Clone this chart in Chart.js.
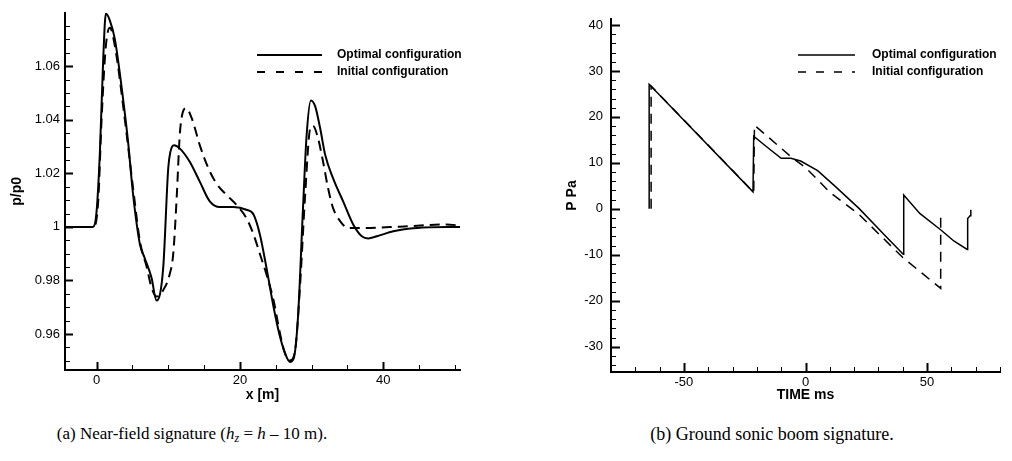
<!DOCTYPE html>
<html>
<head>
<meta charset="utf-8">
<script src="https://cdn.jsdelivr.net/npm/chart.js@4.4.0/dist/chart.umd.min.js"></script>
<style>
  body { margin: 0; background: #fff; width: 1012px; height: 461px; position: relative; overflow: hidden; }
  canvas { position: absolute; top: 0; }
  #c1 { left: 0; }
  #c2 { left: 500px; }
  .cap { position: absolute; top: 424px; font-family: "Liberation Serif", "DejaVu Serif", serif; font-size: 17px; color: #000; white-space: nowrap; transform: translateX(-50%); }
  .cap i { font-style: italic; }
  .cap sub { font-size: 12px; vertical-align: -3px; line-height: 0; }
</style>
</head>
<body>
<canvas id="c1" width="480" height="410"></canvas>
<canvas id="c2" width="512" height="410"></canvas>
<div class="cap" style="left:192px">(a) Near-field signature (<i>h<sub>z</sub></i> = <i>h</i> – 10 m).</div>
<div class="cap" style="left:772px; font-size:18px">(b) Ground sonic boom signature.</div>
<script>
// near-field signature, p/p0 vs x [m]
const nearX_opt = [-4.4, -0.5, 0, 0.47, 0.93, 1.3, 1.86, 2.56, 3.7, 4.4, 5.1, 6.05, 6.7, 7.67, 8.37, 9.3, 10.0, 10.3, 10.8, 11.6, 13.0, 14.4, 15.8, 17.2, 19.1, 20.9, 21.9, 22.8, 23.7, 24.7, 25.6, 26.5, 27.0, 27.5, 28.1, 28.8, 29.3, 29.9, 30.5, 31.2, 31.9, 33.0, 34.4, 35.8, 37.0, 37.9, 39.1, 41.4, 44.7, 50.7];
const nearP_opt = [1.0, 1.0, 1.0056, 1.028, 1.0626, 1.0796, 1.077, 1.070, 1.0478, 1.0317, 1.012, 0.9935, 0.9885, 0.981, 0.9725, 0.9848, 1.0219, 1.028, 1.0305, 1.0293, 1.0243, 1.0169, 1.0095, 1.0074, 1.0074, 1.0064, 1.0046, 0.997, 0.9848, 0.970, 0.9589, 0.9515, 0.9496, 0.9509, 0.9663, 1.007, 1.034, 1.0472, 1.045, 1.0367, 1.0268, 1.0181, 1.0095, 1.0009, 0.9965, 0.9957, 0.9965, 0.9984, 0.9996, 1.0];
const nearX_init = [-4.4, -0.4, 0.23, 0.7, 1.3, 1.86, 2.56, 3.95, 5.1, 6.05, 7.0, 7.67, 8.4, 9.3, 10.2, 10.7, 11.2, 11.6, 12.0, 12.5, 13.3, 14.4, 15.6, 16.7, 18.1, 19.5, 20.9, 21.9, 22.8, 23.7, 24.7, 25.6, 26.3, 27.0, 27.7, 28.4, 29.1, 29.8, 30.2, 30.9, 31.6, 32.3, 33.0, 34.0, 35.1, 36.7, 42.3, 48.8, 50.7];
const nearP_init = [1.0, 1.0, 1.0095, 1.040, 1.0675, 1.0743, 1.0675, 1.040, 1.0144, 0.9947, 0.985, 0.9774, 0.974, 0.9764, 0.9823, 0.990, 1.012, 1.034, 1.0425, 1.0443, 1.0404, 1.0305, 1.0219, 1.0163, 1.012, 1.0083, 1.0033, 0.9972, 0.9898, 0.9823, 0.9725, 0.9601, 0.9527, 0.9502, 0.954, 0.9786, 1.012, 1.0367, 1.0377, 1.033, 1.0243, 1.0144, 1.007, 1.0021, 0.9996, 0.9996, 1.0001, 1.0009, 1.0005];

// ground signature, P Pa vs TIME ms
const groundT_opt = [-64.3, -64.3, -21.6, -21.3, -16, -10, -6, -2, 5, 12, 22, 32, 40.2, 40.4, 47, 55.7, 61, 66.5, 66.7, 67.7, 68.0];
const groundP_opt = [0, 27.1, 3.7, 15.8, 13.5, 11.0, 11.0, 10.4, 8.3, 5.0, 0.1, -5.4, -9.9, 3.0, -1.0, -4.6, -7.0, -8.85, -2.1, -1.5, -0.2];
const groundT_init = [-63.5, -63.5, -21.3, -21.0, -5, 0, 10, 22, 40, 55.6, 55.6];
const groundP_init = [0, 26.7, 3.6, 18.2, 10.9, 9.0, 3.6, -1.2, -10.6, -17.3, -0.8];

// tick labels
const nearXTicks = [0, 20, 40];
const nearYTicks = [0.96, 0.98, 1, 1.02, 1.04, 1.06];
const groundXTicks = [-50, 0, 50];
const groundYTicks = [-30, -20, -10, 0, 10, 20, 30, 40];

const seriesNames = ['Optimal configuration', 'Initial configuration'];

Chart.defaults.font.family = '"Liberation Sans", Arial, Helvetica, sans-serif';
Chart.defaults.color = '#000';

const pts = (xs, ys) => xs.map((x, i) => ({x: x, y: ys[i]}));

// tecplot style: ticks pointing inside, plus minor ticks
const inTicks = {
  id: 'inTicks',
  afterDraw(chart, args, o) {
    const {ctx, chartArea: a, scales: {x, y}} = chart;
    ctx.save();
    ctx.strokeStyle = '#000';
    const xm = (v, len, w) => {
      const p = Math.round(x.getPixelForValue(v)) + 0.5;
      ctx.lineWidth = w;
      ctx.beginPath(); ctx.moveTo(p, a.bottom); ctx.lineTo(p, a.bottom - len); ctx.stroke();
    };
    const ym = (v, len, w) => {
      const p = Math.round(y.getPixelForValue(v)) + 0.5;
      ctx.lineWidth = w;
      ctx.beginPath(); ctx.moveTo(a.left, p); ctx.lineTo(a.left + len, p); ctx.stroke();
    };
    for (let v = Math.ceil(x.min / o.xMinor) * o.xMinor; v <= x.max + 1e-9; v += o.xMinor) xm(v, o.minor, 1);
    for (let v = Math.ceil(y.min / o.yMinor) * o.yMinor; v <= y.max + 1e-9; v += o.yMinor) ym(v, o.minor, 1);
    x.ticks.forEach(t => xm(t.value, o.major, 2));
    y.ticks.forEach(t => ym(t.value, o.major, 2));
    ctx.restore();
  }
};

// legend drawn inside the plot, lines + bold text
const boxLegend = {
  id: 'boxLegend',
  afterDraw(chart, args, o) {
    const ctx = chart.ctx;
    ctx.save();
    ctx.font = 'bold 12px "Liberation Sans", Arial, sans-serif';
    ctx.textBaseline = 'middle';
    ctx.fillStyle = '#000';
    chart.data.datasets.forEach((ds, i) => {
      const yy = o.y + i * o.gap;
      ctx.strokeStyle = '#000';
      ctx.lineWidth = o.lw;
      ctx.setLineDash(i === 0 ? [] : o.dash);
      ctx.beginPath(); ctx.moveTo(o.x0, yy); ctx.lineTo(o.x1, yy); ctx.stroke();
      ctx.setLineDash([]);
      ctx.fillText(ds.label, o.tx, yy);
    });
    ctx.restore();
  }
};

function makeChart(id, cfg) {
  return new Chart(document.getElementById(id), {
    type: 'line',
    data: {
      datasets: [{
        label: seriesNames[0],
        data: cfg.opt,
        borderColor: '#000',
        borderWidth: cfg.lw,
        pointRadius: 0,
        cubicInterpolationMode: cfg.smooth ? 'monotone' : 'default',
        tension: 0
      }, {
        label: seriesNames[1],
        data: cfg.init,
        borderColor: '#000',
        borderWidth: cfg.lw,
        borderDash: cfg.dash,
        pointRadius: 0,
        cubicInterpolationMode: cfg.smooth ? 'monotone' : 'default',
        tension: 0
      }]
    },
    options: {
      responsive: false,
      animation: false,
      layout: { padding: cfg.pad },
      plugins: {
        legend: { display: false },
        tooltip: { enabled: false },
        inTicks: cfg.ticks,
        boxLegend: cfg.legend
      },
      scales: {
        x: {
          type: 'linear',
          min: cfg.xMin, max: cfg.xMax,
          grid: { display: false, drawTicks: false },
          border: { display: true, color: '#000', width: 2 },
          afterBuildTicks: s => { s.ticks = cfg.xTicks.map(v => ({value: v})); },
          afterFit: s => { s.height = cfg.xH; },
          ticks: { padding: 3, font: { size: 13 }, color: '#000', callback: v => String(v) },
          title: { display: true, text: cfg.xTitle, font: { size: 14, weight: 'bold' }, padding: { top: 0, bottom: 6 } }
        },
        y: {
          type: 'linear',
          min: cfg.yMin, max: cfg.yMax,
          grid: { display: false, drawTicks: false },
          border: { display: true, color: '#000', width: 2 },
          afterBuildTicks: s => { s.ticks = cfg.yTicks.map(v => ({value: v})); },
          afterFit: s => { s.width = cfg.yW; },
          ticks: { padding: cfg.yPad, font: { size: 13 }, color: '#000', callback: v => String(+v.toFixed(3)) },
          title: { display: true, text: cfg.yTitle, font: { size: 14, weight: 'bold' }, padding: { top: cfg.yTitlePad, bottom: 0 } }
        }
      }
    },
    plugins: [inTicks, boxLegend]
  });
}

makeChart('c1', {
  opt: pts(nearX_opt, nearP_opt),
  init: pts(nearX_init, nearP_init),
  smooth: true, lw: 2, dash: [10, 6],
  xMin: -4.4, xMax: 50.7, yMin: 0.9466, yMax: 1.0799,
  xTicks: nearXTicks, yTicks: nearYTicks,
  xTitle: 'x [m]', yTitle: 'p/p0',
  pad: { left: 0, top: 10, right: 20, bottom: 0 },
  xH: 40, yW: 65, yPad: 5, yTitlePad: 9,
  ticks: { xMinor: 5, yMinor: 0.005, major: 8, minor: 5 },
  legend: { x0: 257, x1: 322, tx: 337, y: 55, gap: 17, lw: 2, dash: [8, 11] }
});

makeChart('c2', {
  opt: pts(groundT_opt, groundP_opt),
  init: pts(groundT_init, groundP_init),
  smooth: false, lw: 1.5, dash: [10, 7],
  xMin: -80, xMax: 80, yMin: -35.5, yMax: 41.3,
  xTicks: groundXTicks, yTicks: groundYTicks,
  xTitle: 'TIME ms', yTitle: 'P Pa',
  pad: { left: 55, top: 19, right: 12, bottom: 0 },
  xH: 38, yW: 56, yPad: 8, yTitlePad: 9,
  ticks: { xMinor: 10, yMinor: 2, major: 9, minor: 5 },
  legend: { x0: 298, x1: 355, tx: 372, y: 55, gap: 17, lw: 1.5, dash: [8, 10] }
});
</script>
</body>
</html>
